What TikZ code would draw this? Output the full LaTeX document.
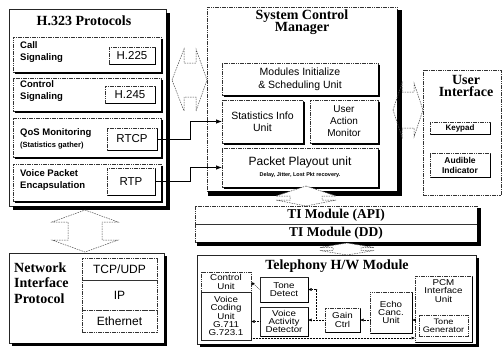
\documentclass[tikz,border=0pt]{standalone}
\usepackage{fontspec}
\setmainfont{Liberation Serif}
\setsansfont{Liberation Sans}
\newfontfamily\widesans[FakeStretch=1.15]{Liberation Sans}
\usetikzlibrary{arrows.meta,calc}
\newcommand\myShadow[2]{%
  \draw[black, line width=#2pt]
   ([xshift=#2pt/2, yshift=-#2pt]#1.north east) -- ([xshift=#2pt/2, yshift=-#2pt/2]#1.south east) -- ([xshift=#2pt, yshift=-#2pt/2]#1.south west);}
\newcommand\myVarrow[8]{%
  \draw[harrow,#8] (#1,#2) -- ({#1+#6},#3) -- ({#1+#7},#3) -- ({#1+#7},#4) -- ({#1+#6},#4) -- (#1,#5) -- ({#1-#6},#4) -- ({#1-#7},#4) -- ({#1-#7},#3) -- ({#1-#6},#3) -- cycle;}
\newcommand\myHarrow[8]{%
  \draw[harrow,#8] (#2,#1) -- (#3,{#1-#6}) -- (#3,{#1-#7}) -- (#4,{#1-#7}) -- (#4,{#1-#6}) -- (#5,#1) -- (#4,{#1+#6}) -- (#4,{#1+#7}) -- (#3,{#1+#7}) -- (#3,{#1+#6}) -- cycle;}
\begin{document}
\begin{tikzpicture}[x=1pt,y=-1pt,
 rc/.style args={#1/#2/#3/#4}{at={(#1,#2)}, anchor=north west, minimum width={(#3-#1)*1pt}, minimum height={(#4-#2)*1pt}},
 bx/.style={inner sep=0pt, outer sep=0pt, draw=black!80, line width=0.5pt, dash pattern=on 1.6pt off 0.7pt},
 sbx/.style={inner sep=0pt, outer sep=0pt, draw=black!85, line width=0.6pt},
 ttl/.style={font=\bfseries\fontsize{14}{12.5}\selectfont, inner sep=0pt, align=center},
 tiband/.style={font=\bfseries\fontsize{13.5}{14}\selectfont, align=center},
 lbl/.style={font=\sffamily\fontsize{10}{12}\selectfont, align=center},
 blbl/.style={font=\sffamily\bfseries\fontsize{9.5}{12}\selectfont, align=left, inner sep=0pt},
 pl/.style={font=\sffamily\fontsize{11.5}{12}\selectfont},
 tl/.style={font=\widesans\fontsize{8.5}{8.4}\selectfont, align=center},
 uil/.style={font=\sffamily\bfseries\fontsize{8}{10}\selectfont, align=center},
 conn/.style={line width=0.7pt, -{Latex[length=6pt,width=4.5pt]}},
 tconn/.style={line width=0.5pt, densely dotted, -{Latex[length=3.5pt,width=3pt]}},
 harrow/.style={draw=black!70, line width=0.5pt, dash pattern=on 1.5pt off 1pt},
]
\useasboundingbox[fill=white] (0,0) rectangle (503,349);

% ---------------- H.323 Protocols
\node[sbx, rc=9/9/166/206] (h323) {};
\node[ttl] (h323t) at (84,21) {H.323 Protocols};
\node[bx, rc=13/37/161/72] (call) {};
\node[blbl, anchor=west] (callt) at (20,52) {Call\\Signaling};
\node[bx, rc=109/47/155/64, pl] (h225) {H.225};
\node[bx, rc=13/78/161/111] (ctrl) {};
\node[blbl, anchor=west] (ctrlt) at (20,91) {Control\\Signaling};
\node[bx, rc=105/86/155/103, pl] (h245) {H.245};
\node[bx, rc=13/118/161/157] (qos) {};
\node[blbl, anchor=west] (qost) at (20,133) {QoS Monitoring};
\node[font=\sffamily\bfseries\fontsize{7.5}{8}\selectfont, anchor=west, inner sep=0pt] (qoss) at (20,146) {(Statistics gather)};
\node[bx, rc=107/128/157/150, pl] (rtcp) {RTCP};
\node[bx, rc=13/164/161/201] (vpe) {};
\node[blbl, anchor=west] (vpet) at (20,180) {Voice Packet\\Encapsulation};
\node[bx, rc=107/168/155/195, pl] (rtp) {RTP};
\myShadow{h323}{4}
\foreach \n in {call,ctrl,qos,vpe} {\myShadow{\n}{1.5}}
\foreach \n in {h225,h245,rtcp,rtp} {\myShadow{\n}{1.2}}

% ---------------- Network Interface Protocol
\node[sbx, rc=9/253/164/343] (net) {};
\node[font=\bfseries\fontsize{14}{15.5}\selectfont, align=left, inner sep=0pt, anchor=west] (nett) at (14,283) {Network\\Interface\\Protocol};
\node[bx, rc=82/258/157/280, font=\sffamily\fontsize{12}{12}\selectfont] (tcp) {TCP/UDP};
\node[bx, rc=82/280/157/310, font=\sffamily\fontsize{12}{12}\selectfont] (ip) {IP};
\node[bx, rc=82/310/157/332, font=\sffamily\fontsize{12}{12}\selectfont] (eth) {Ethernet};
\myShadow{net}{3}

% ---------------- System Control Manager
\node[bx, rc=207/7/397/191] (scm) {};
\node[ttl] (scmt) at (302,22) {System Control\\Manager};
\node[bx, rc=222/63/378/95, lbl, font=\sffamily\fontsize{10.5}{13}\selectfont] (mod) {Modules Initialize\\\& Scheduling Unit};
\node[bx, rc=222/100/303/143, lbl, font=\sffamily\fontsize{10.5}{11.5}\selectfont] (stat) {Statistics Info\\Unit};
\node[bx, rc=310/100/378/143, lbl] (uam) {User\\Action\\Monitor};
\node[bx, rc=222/148/378/187] (pkt) {};
\node[font=\sffamily\fontsize{12}{12}\selectfont, inner sep=0pt] (pktt) at (300,162) {Packet Playout unit};
\node[font=\sffamily\bfseries\fontsize{5.5}{6}\selectfont, inner sep=0pt] (pkts) at (300,175) {Delay, Jitter, Lost Pkt recovery.};
\foreach \n in {mod,stat,uam,pkt} {\myShadow{\n}{1.5}}
\draw[black, line width=5pt] (399.5,10) -- (399.5,196);
\draw[black, line width=5pt] (208,193.5) -- (402,193.5);

% ---------------- User Interface
\node[bx, rc=423/70/501/195] (ui) {};
\node[ttl] (uit) at (466,86) {User\\Interface};
\node[bx, rc=430/122/490/134, uil] (key) {Keypad};
\node[bx, rc=430/153/490/177, uil, font=\sffamily\bfseries\fontsize{8.5}{10}\selectfont] (aud) {Audible\\Indicator};
\foreach \n in {key,aud} {\myShadow{\n}{1.2}}

% ---------------- TI module bands
\node[bx, rc=195/206/477/224, tiband] (api) {TI Module (API)};
\node[bx, rc=195/224/477/242, tiband] (dd) {TI Module (DD)};
\draw[black, line width=3.5pt] ([xshift=1.75pt,yshift=-2pt]api.north east) -- ([xshift=1.75pt,yshift=-1.75pt]dd.south east) -- ([xshift=2pt,yshift=-1.75pt]dd.south west);

% ---------------- Telephony H/W Module
\node[sbx, rc=197/255/476/344] (tel) {};
\node[ttl] (telt) at (337,266) {Telephony H/W Module};
\node[bx, rc=201/272/251/292, tl] (cu) {Control\\Unit};
\node[sbx, rc=201/292/251/340, tl] (vcu) {Voice\\Coding\\Unit\\G.711\\G.723.1};
\node[sbx, rc=260/277/308/302, tl] (td) {Tone\\Detect};
\node[sbx, rc=260/307/308/336, tl] (vad) {Voice\\Activity\\Detector};
\node[bx, rc=325/308/360/332, tl] (gain) {Gain\\Ctrl};
\node[bx, rc=370/292/412/333, tl] (echo) {Echo\\Canc.\\Unit};
\node[bx, rc=415/276/472/342] (pcm) {};
\node[tl, inner sep=0pt] (pcmt) at (443.5,291) {PCM\\Interface\\Unit};
\node[bx, rc=419/315/468/336, tl, font=\widesans\fontsize{8}{8.4}\selectfont] (tg) {Tone\\Generator};
\myShadow{tel}{3}
\foreach \n in {td,vad,gain,echo,pcm} {\myShadow{\n}{1.2}}

% ---------------- connectors
\draw[conn] (rtcp.east) -- ++(33,0) |- (stat.west);
\draw[conn] (rtp.east) -- ++(35,0) |- (pkt.west);
\draw[tconn] (td.west) -- (cu.east);
\draw[tconn] (vad.west) -- (vad.west -| vcu.east);
\draw[tconn] (gain.west) -- (gain.west -| vad.east);
\coordinate (br) at ($(gain.west -| vad.east)!0.5!(gain.west)$);
\draw[tconn] (br) |- (td.east);
\draw[tconn] (gain.east -| echo.west) -- (gain.east);
\draw[tconn] (gain.east -| pcm.west) -- (gain.east -| echo.east);
\draw[tconn] ([yshift=2pt]vcu.south east) -- ([yshift=2pt]vcu.south east -| pcm.west);

% ---------------- hollow double arrows
\myVarrow{85}{210}{222}{240}{252}{33}{17}{fill=white}
\myHarrow{80}{172}{184}{196}{207}{31}{17}{}
\myHarrow{110}{393}{402}{414}{423}{27}{18}{}
\myVarrow{306}{186}{196}{200}{206}{30}{16}{fill=white}
\myVarrow{347}{243}{247.5}{250.5}{255}{27}{14}{fill=white}
\end{tikzpicture}
\end{document}
